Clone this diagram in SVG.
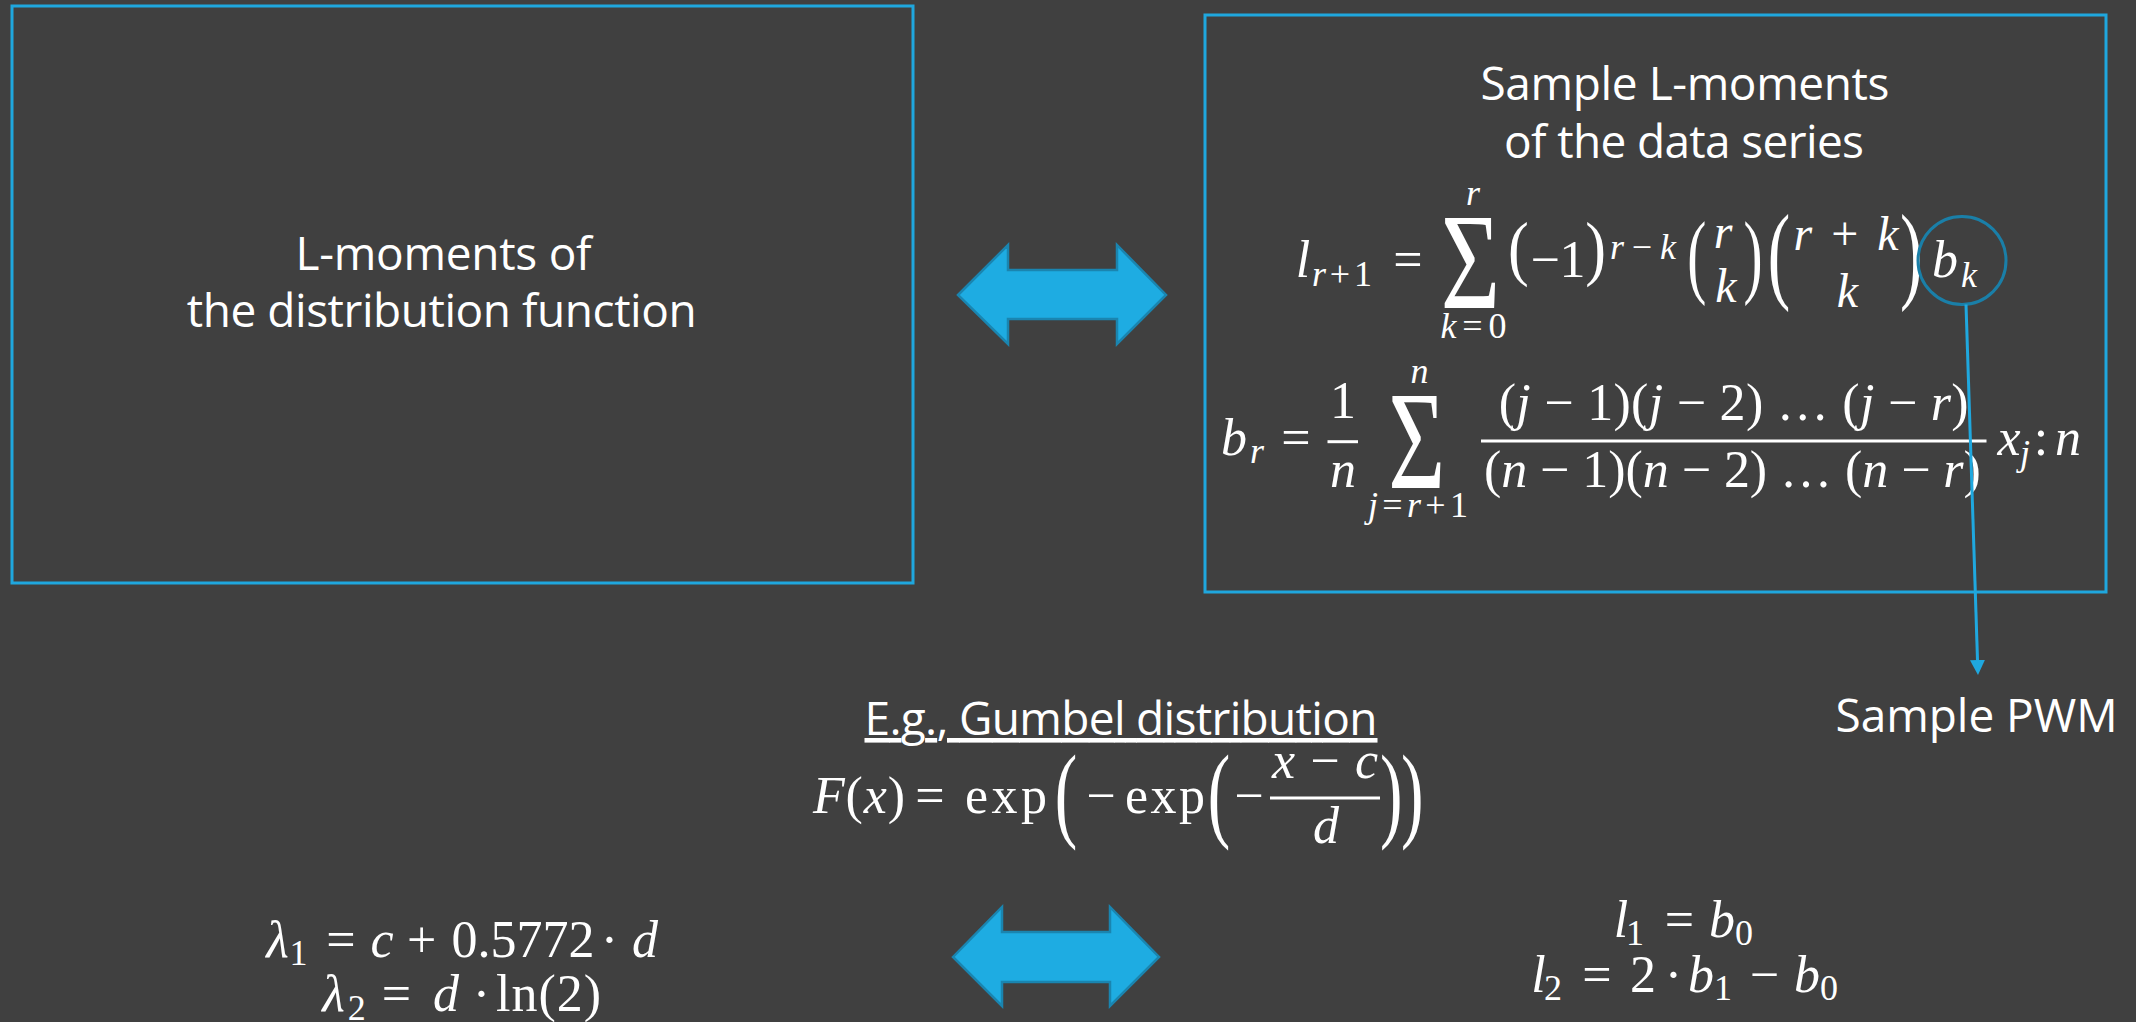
<svg xmlns="http://www.w3.org/2000/svg" width="2136" height="1022" viewBox="0 0 2136 1022">
<defs>
<style>
.box{fill:none;stroke:#1FA7DE;stroke-width:3}
.lbl{font-family:"Open Sans","Liberation Sans",sans-serif;font-weight:400;font-size:46px;fill:#fff;text-anchor:middle}
.m{font-family:"Liberation Serif","DejaVu Serif",serif;font-size:52px;fill:#fff;text-anchor:middle}
.i{font-style:italic}
.s{font-size:36px}
.b48{font-size:48px}
.p{font-family:"Liberation Serif","DejaVu Serif",serif;font-size:52px;fill:#fff;text-anchor:start}
.sig{font-family:"Liberation Serif","DejaVu Serif",serif;fill:#fff;text-anchor:start}
.bar{stroke:#fff;stroke-width:3}
.dbl{fill:#1EACE2;stroke:#1A85B0;stroke-width:2.5;stroke-linejoin:miter}
.conn{stroke:#1FA8DF;stroke-width:3;fill:none}
.hl{fill:none;stroke:#1A7FA8;stroke-width:3}
</style>
<marker id="ah" markerUnits="userSpaceOnUse" markerWidth="16" markerHeight="16" refX="0" refY="7.5" orient="auto">
<path d="M0,0 L15,7.5 L0,15 Z" fill="#1FA8DF"/>
</marker>
</defs>
<rect x="0" y="0" width="2136" height="1022" fill="#404040"/>

<g id="node-distribution">
<rect class="box" x="12" y="6" width="901" height="577"/>
<text class="lbl" x="443.5" y="270" textLength="296">L-moments of</text>
<text class="lbl" x="441.7" y="327" textLength="510">the distribution function</text>
</g>

<g id="node-sample">
<rect class="box" x="1205" y="15" width="901" height="577"/>
<text class="lbl" x="1685" y="99.6" textLength="409">Sample L-moments</text>
<text class="lbl" x="1684" y="158" textLength="360">of the data series</text>
<!-- l_{r+1} formula -->
<text class="m i" x="1303" y="277">l</text>
<text class="m s" x="1342" y="286" textLength="60"><tspan font-style="italic">r</tspan>+1</text>
<text class="m" x="1408" y="277">=</text>
<text class="sig" font-size="138" transform="translate(1440.8,308.3) scale(0.74,1)">Σ</text>
<text class="m s i" x="1473" y="205">r</text>
<text class="m s" x="1473.5" y="338" textLength="66"><tspan font-style="italic">k</tspan>=0</text>
<text class="p" transform="translate(1508,272.2) scale(1.2,1.396)">(</text>
<text class="m" x="1558" y="277" textLength="55">−1</text>
<text class="p" transform="translate(1585.2,272.2) scale(1.2,1.396)">)</text>
<text class="m s" x="1643" y="259" textLength="66"><tspan font-style="italic">r</tspan>−<tspan font-style="italic">k</tspan></text>
<text class="p" transform="translate(1687.2,285.6) scale(1.1,1.779)">(</text>
<text class="m i b48" x="1723" y="248">r</text>
<text class="m i b48" x="1726" y="302">k</text>
<text class="p" transform="translate(1743.4,285.6) scale(1.1,1.779)">)</text>
<text class="p" transform="translate(1767.7,289.3) scale(1.3,2.063)">(</text>
<text class="m b48" x="1846" y="250" textLength="105"><tspan font-style="italic">r</tspan> + <tspan font-style="italic">k</tspan></text>
<text class="m i b48" x="1847.5" y="306.7">k</text>
<text class="p" transform="translate(1900,289.3) scale(1.3,2.063)">)</text>
<text class="m i" x="1945" y="277">b</text>
<text class="m s i" x="1969" y="287">k</text>
<circle class="hl" cx="1962" cy="260.5" r="44"/>
<!-- b_r formula -->
<text class="m i" x="1234" y="455">b</text>
<text class="m s i" x="1257" y="463">r</text>
<text class="m" x="1296" y="455">=</text>
<text class="m" x="1343" y="418">1</text>
<line class="bar" x1="1327.5" y1="441.7" x2="1358" y2="441.7"/>
<text class="m i" x="1343" y="487">n</text>
<text class="sig" font-size="140" transform="translate(1388.3,488) scale(0.70,1)">Σ</text>
<text class="m s i" x="1419.5" y="383">n</text>
<text class="m s" x="1418" y="517" textLength="100"><tspan font-style="italic">j</tspan>=<tspan font-style="italic">r</tspan>+1</text>
<text class="m" x="1733.7" y="420" textLength="470">(<tspan font-style="italic">j</tspan> − 1)(<tspan font-style="italic">j</tspan> − 2) … (<tspan font-style="italic">j</tspan> − <tspan font-style="italic">r</tspan>)</text>
<line class="bar" x1="1481" y1="441" x2="1986.5" y2="441"/>
<text class="m" x="1732.4" y="487" textLength="497">(<tspan font-style="italic">n</tspan> − 1)(<tspan font-style="italic">n</tspan> − 2) … (<tspan font-style="italic">n</tspan> − <tspan font-style="italic">r</tspan>)</text>
<text class="m i" x="2009" y="455">x</text>
<text class="m s i" x="2025" y="465">j</text>
<text class="m" x="2041" y="455">:</text>
<text class="m i" x="2068" y="455">n</text>
</g>

<g id="node-pwm">
<text class="lbl" x="1835.5" y="732" textLength="282" style="text-anchor:start">Sample PWM</text>
</g>

<g id="node-gumbel">
<text class="lbl" x="1121" y="735" textLength="513" text-decoration="underline">E.g., Gumbel distribution</text>
<text class="m" x="859" y="813" textLength="92"><tspan font-style="italic">F</tspan>(<tspan font-style="italic">x</tspan>)</text>
<text class="m" x="930" y="813">=</text>
<text class="m" x="1006" y="813" textLength="82">exp</text>
<text class="p" transform="translate(1054.75,828.4) scale(1.3,2.027)">(</text>
<text class="m" x="1101" y="813">−</text>
<text class="m" x="1165" y="813" textLength="80">exp</text>
<text class="p" transform="translate(1207.75,828.4) scale(1.3,2.027)">(</text>
<text class="m" x="1249" y="813">−</text>
<text class="m" x="1325" y="778" textLength="106"><tspan font-style="italic">x</tspan> − <tspan font-style="italic">c</tspan></text>
<line class="bar" x1="1270" y1="798" x2="1380" y2="798"/>
<text class="m i" x="1326" y="843">d</text>
<text class="p" transform="translate(1380,828.4) scale(1.3,2.027)">)</text>
<text class="p" transform="translate(1401,828.4) scale(1.3,2.027)">)</text>
</g>

<g id="node-lambda">
<text class="m i" x="277.5" y="957">λ</text>
<text class="m s" x="298.5" y="965">1</text>
<text class="m" x="341" y="957">=</text>
<text class="m i" x="382" y="957">c</text>
<text class="m" x="421.7" y="957">+</text>
<text class="m" x="523" y="957" textLength="143">0.5772</text>
<text class="m" x="609.5" y="957">·</text>
<text class="m i" x="645" y="957">d</text>
<text class="m i" x="333.5" y="1011">λ</text>
<text class="m s" x="356.7" y="1020">2</text>
<text class="m" x="396.5" y="1011">=</text>
<text class="m i" x="446" y="1011">d</text>
<text class="m" x="481.5" y="1011">·</text>
<text class="m" x="548.5" y="1011" textLength="105">ln(2)</text>
</g>

<g id="node-lsample">
<text class="m i" x="1621" y="937">l</text>
<text class="m s" x="1635" y="945">1</text>
<text class="m" x="1679.5" y="937">=</text>
<text class="m i" x="1722" y="937">b</text>
<text class="m s" x="1744" y="945">0</text>
<text class="m i" x="1538.6" y="992">l</text>
<text class="m s" x="1553" y="1000">2</text>
<text class="m" x="1597" y="992">=</text>
<text class="m" x="1643" y="992">2</text>
<text class="m" x="1673.5" y="992">·</text>
<text class="m i" x="1701" y="992">b</text>
<text class="m s" x="1723" y="1000">1</text>
<text class="m" x="1764.5" y="992">−</text>
<text class="m i" x="1807" y="992">b</text>
<text class="m s" x="1829" y="1000">0</text>
</g>

<g id="connectors">
<path class="dbl" d="M958,295 L1008,245 L1008,270 L1117,270 L1117,245 L1166,295 L1117,344 L1117,319 L1008,319 L1008,344 Z"/>
<path class="dbl" d="M953,957 L1002,907 L1002,932 L1110,932 L1110,907 L1159,957 L1110,1006 L1110,982 L1002,982 L1002,1006 Z"/>
<line class="conn" x1="1966" y1="304.5" x2="1977.5" y2="660" marker-end="url(#ah)"/>
</g>
</svg>
